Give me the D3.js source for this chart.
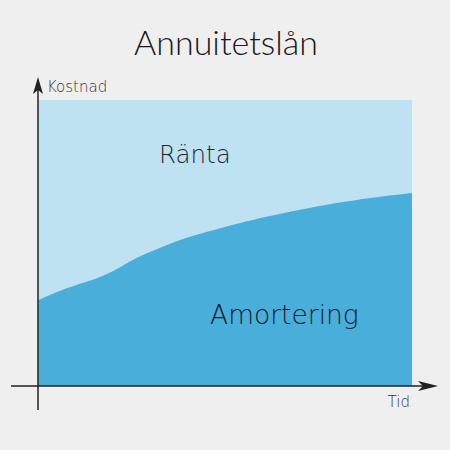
<!DOCTYPE html>
<html>
<head>
<meta charset="utf-8">
<script src="https://cdn.jsdelivr.net/npm/d3@7"></script>
<style>
  html, body { margin: 0; padding: 0; background: #efefef; }
  svg { display: block; font-family: 'DejaVu Sans', sans-serif; }
</style>
</head>
<body>
<div id="chart"></div>
<script>
// time (share of the loan period, %) and the amortering part of the payment (% of total cost)
const tid = [0, 8, 15, 21, 26, 33, 40, 47, 60, 83, 100]
const amortering = [30, 34.6, 37.1, 40.6, 44.8, 48.6, 52.1, 54.5, 59.1, 65, 67.5]
const total = tid.map(() => 100)

const width = 450, height = 450

const svg = d3.select('#chart')
    .append('svg')
    .attr('width', width)
    .attr('height', height)

svg.append('rect')
    .attr('width', width)
    .attr('height', height)
    .attr('fill', '#efefef')

let x = d3.scaleLinear().domain([0, 100]).range([38, 412])
let y = d3.scaleLinear().domain([0, 100]).range([386, 100])

let area = d3.area()
    .x(function(d, i) { return x(tid[i]) })
    .y0(y(0))
    .y1(function(d) { return y(d) })
    .curve(d3.curveBasis)

// ränta = everything above amortering, up to total
svg.append('path')
    .datum(total)
    .attr('fill', '#bee2f2')
    .attr('d', area)

svg.append('path')
    .datum(amortering)
    .attr('fill', '#4aaedb')
    .attr('d', area)

// axes with arrow heads
const x0 = x(0), y0 = y(0)
const ink = '#222'

svg.append('line')
    .attr('x1', x0 - 27).attr('x2', x(100) + 12)
    .attr('y1', y0).attr('y2', y0)
    .attr('stroke', ink)
    .attr('stroke-width', 1.5)

svg.append('line')
    .attr('x1', x0).attr('x2', x0)
    .attr('y1', y0 + 24).attr('y2', y(100) - 10)
    .attr('stroke', ink)
    .attr('stroke-width', 1.5)

const xTip = x(100) + 26, yTip = y(100) - 23
svg.append('path')
    .attr('d', `M${xTip},${y0} L${xTip - 20},${y0 - 5} L${xTip - 15},${y0} L${xTip - 20},${y0 + 5} Z`)
    .attr('fill', ink)

svg.append('path')
    .attr('d', `M${x0},${yTip} L${x0 + 5},${yTip + 17} L${x0},${yTip + 13} L${x0 - 5},${yTip + 17} Z`)
    .attr('fill', ink)

svg.append('text')
    .attr('x', x0 + 9)
    .attr('y', 92)
    .attr('font-size', 15)
    .attr('font-weight', 200)
    .attr('fill', '#333')
    .text('Kostnad')

svg.append('text')
    .attr('x', 410)
    .attr('y', 407)
    .attr('text-anchor', 'end')
    .attr('font-size', 15)
    .attr('font-weight', 200)
    .attr('fill', '#333')
    .text('Tid')

svg.append('text')
    .attr('x', 226)
    .attr('y', 55)
    .attr('text-anchor', 'middle')
    .attr('font-family', 'Lato, sans-serif')
    .attr('font-size', 34)
    .attr('font-weight', 300)
    .attr('fill', '#1a1a1a')
    .text('Annuitetslån')

svg.append('text')
    .attr('x', 159)
    .attr('y', 163)
    .attr('font-size', 24.5)
    .attr('font-weight', 200)
    .attr('fill', '#1a2a33')
    .text('Ränta')

svg.append('text')
    .attr('x', 210)
    .attr('y', 324)
    .attr('font-size', 26.5)
    .attr('font-weight', 200)
    .attr('fill', '#10202a')
    .text('Amortering')
</script>
</body>
</html>
